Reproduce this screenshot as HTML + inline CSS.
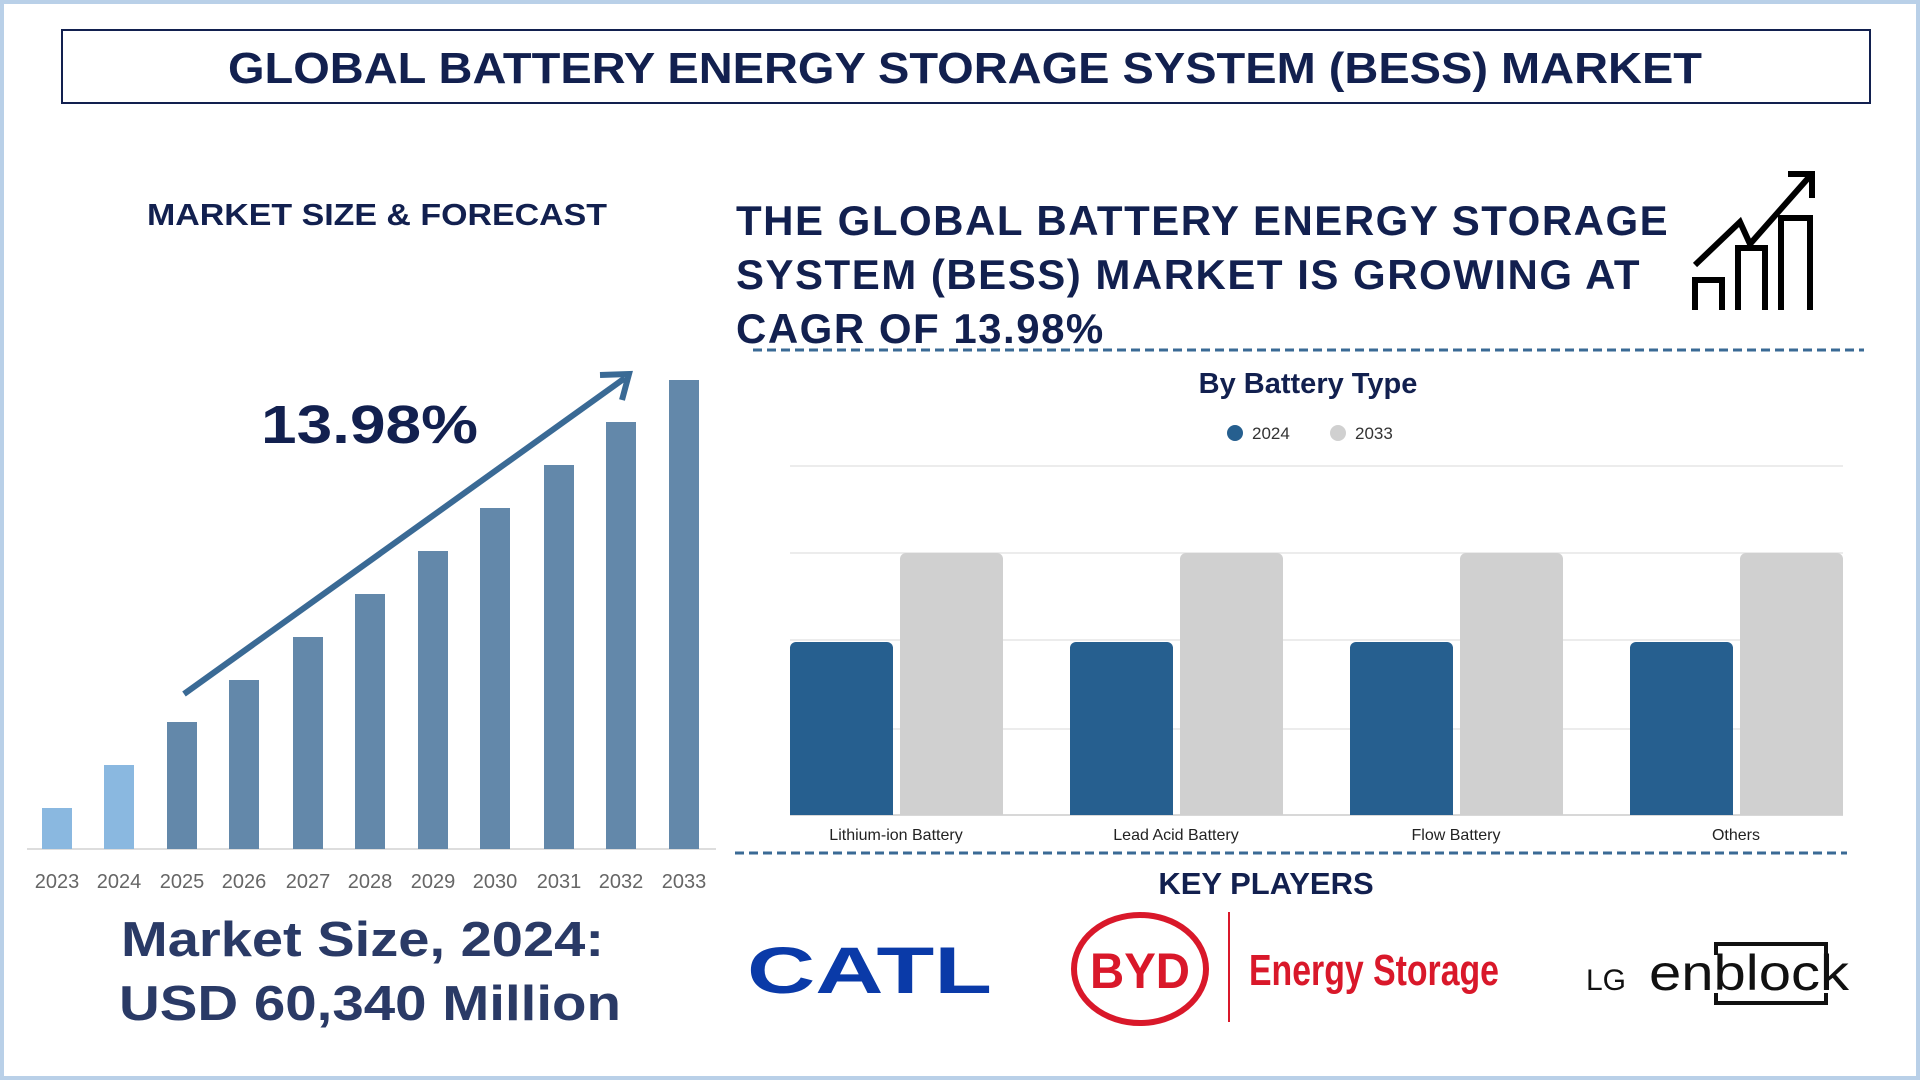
<!DOCTYPE html>
<html><head><meta charset="utf-8"><style>
body{margin:0;width:1920px;height:1080px;overflow:hidden;background:#fff;font-family:"Liberation Sans",sans-serif}
.frame{position:absolute;left:0;top:0;width:1912px;height:1072px;border:4px solid #b9d0e8}
.t{position:absolute;white-space:nowrap;font-weight:bold;color:#12204f}
</style></head><body>
<div class="frame"></div>
<div style="position:absolute;left:61px;top:29px;width:1806px;height:71px;border:2px solid #12204f"></div>
<div class="t" style="left:736px;top:194px;font-size:42px;line-height:54px;letter-spacing:1.5px">THE GLOBAL BATTERY ENERGY STORAGE<br>SYSTEM (BESS) MARKET IS GROWING AT<br>CAGR OF 13.98%</div>
<svg width="1920" height="1080" style="position:absolute;left:0;top:0">
<text x="228" y="83" font-size="44" font-weight="bold" fill="#12204f" textLength="1474" lengthAdjust="spacingAndGlyphs">GLOBAL BATTERY ENERGY STORAGE SYSTEM (BESS) MARKET</text>
<text x="147" y="225" font-size="31" font-weight="bold" fill="#12204f" textLength="460" lengthAdjust="spacingAndGlyphs">MARKET SIZE &amp; FORECAST</text>
<g fill="none" stroke="#000" stroke-width="6">
<polyline points="1695,265 1740,222 1750,244 1810,176"/>
<polyline points="1788,174 1812,174 1812,198"/>
<polyline points="1695,310 1695,280 1722,280 1722,310"/>
<polyline points="1738,310 1738,248 1765,248 1765,310"/>
<polyline points="1781,310 1781,218 1810,218 1810,310"/>
</g>
<line x1="753" y1="350" x2="1864" y2="350" stroke="#3a6a95" stroke-width="3" stroke-dasharray="9,5"/>
<line x1="735" y1="853" x2="1847" y2="853" stroke="#3a6a95" stroke-width="3" stroke-dasharray="9,5"/>
<line x1="27" y1="849" x2="716" y2="849" stroke="#ddd" stroke-width="2"/>
<g fill="#6388aa">
<rect x="42" y="808" width="30" height="41" fill="#8ab8e0"/>
<rect x="104" y="765" width="30" height="84" fill="#8ab8e0"/>
<rect x="167" y="722" width="30" height="127"/>
<rect x="229" y="680" width="30" height="169"/>
<rect x="293" y="637" width="30" height="212"/>
<rect x="355" y="594" width="30" height="255"/>
<rect x="418" y="551" width="30" height="298"/>
<rect x="480" y="508" width="30" height="341"/>
<rect x="544" y="465" width="30" height="384"/>
<rect x="606" y="422" width="30" height="427"/>
<rect x="669" y="380" width="30" height="469"/>
</g>
<line x1="184" y1="694" x2="625" y2="378" stroke="#3a6a95" stroke-width="6"/>
<polyline points="600,375 629,374 622,400" fill="none" stroke="#3a6a95" stroke-width="6"/>
<g font-size="20" fill="#666" text-anchor="middle">
<text x="57" y="888">2023</text><text x="119" y="888">2024</text><text x="182" y="888">2025</text><text x="244" y="888">2026</text><text x="308" y="888">2027</text><text x="370" y="888">2028</text><text x="433" y="888">2029</text><text x="495" y="888">2030</text><text x="559" y="888">2031</text><text x="621" y="888">2032</text><text x="684" y="888">2033</text>
</g>
<g stroke="#e6e6e6" stroke-width="1.5">
<line x1="790" y1="466" x2="1843" y2="466"/><line x1="790" y1="553" x2="1843" y2="553"/><line x1="790" y1="640" x2="1843" y2="640"/><line x1="790" y1="729" x2="1843" y2="729"/><line x1="790" y1="815" x2="1843" y2="815" stroke="#ccc"/>
</g>
<g>
<path d="M790,815V648a6,6 0 0 1 6,-6H887a6,6 0 0 1 6,6V815Z" fill="#265f8f"/>
<path d="M900,815V559a6,6 0 0 1 6,-6H997a6,6 0 0 1 6,6V815Z" fill="#d0d0d0"/>
<path d="M1070,815V648a6,6 0 0 1 6,-6H1167a6,6 0 0 1 6,6V815Z" fill="#265f8f"/>
<path d="M1180,815V559a6,6 0 0 1 6,-6H1277a6,6 0 0 1 6,6V815Z" fill="#d0d0d0"/>
<path d="M1350,815V648a6,6 0 0 1 6,-6H1447a6,6 0 0 1 6,6V815Z" fill="#265f8f"/>
<path d="M1460,815V559a6,6 0 0 1 6,-6H1557a6,6 0 0 1 6,6V815Z" fill="#d0d0d0"/>
<path d="M1630,815V648a6,6 0 0 1 6,-6H1727a6,6 0 0 1 6,6V815Z" fill="#265f8f"/>
<path d="M1740,815V559a6,6 0 0 1 6,-6H1837a6,6 0 0 1 6,6V815Z" fill="#d0d0d0"/>
</g>
<g font-size="16" fill="#222" text-anchor="middle">
<text x="896" y="840">Lithium-ion Battery</text><text x="1176" y="840">Lead Acid Battery</text><text x="1456" y="840">Flow Battery</text><text x="1736" y="840">Others</text>
</g>
<text x="1308" y="393" font-size="29" font-weight="bold" fill="#12204f" text-anchor="middle">By Battery Type</text>
<circle cx="1235" cy="433" r="8" fill="#265f8f"/><text x="1252" y="439" font-size="17" fill="#333">2024</text>
<circle cx="1338" cy="433" r="8" fill="#d0d0d0"/><text x="1355" y="439" font-size="17" fill="#333">2033</text>
<text x="1266" y="894" font-size="31" font-weight="bold" fill="#12204f" text-anchor="middle">KEY PLAYERS</text>
<text x="261" y="443" font-size="54" font-weight="bold" fill="#12204f" textLength="217" lengthAdjust="spacingAndGlyphs">13.98%</text>
<text x="121" y="956" font-size="49" font-weight="bold" fill="#2a3a66" textLength="483" lengthAdjust="spacingAndGlyphs">Market Size, 2024:</text>
<text x="119" y="1020" font-size="49" font-weight="bold" fill="#2a3a66" textLength="502" lengthAdjust="spacingAndGlyphs">USD 60,340 Million</text>
<text x="747" y="993" font-size="66" font-weight="bold" fill="#0a3aa8" textLength="245" lengthAdjust="spacingAndGlyphs">CATL</text>
<ellipse cx="1140" cy="969" rx="66" ry="54" fill="none" stroke="#d9182a" stroke-width="6"/>
<text x="1140" y="988" font-size="50" font-weight="bold" fill="#d9182a" text-anchor="middle" textLength="100" lengthAdjust="spacingAndGlyphs">BYD</text>
<line x1="1229" y1="912" x2="1229" y2="1022" stroke="#d9182a" stroke-width="2"/>
<text x="1249" y="985" font-size="44" font-weight="bold" fill="#d9182a" textLength="250" lengthAdjust="spacingAndGlyphs">Energy Storage</text>
<text x="1586" y="990" font-size="30" fill="#111">LG</text>
<text x="1649" y="990" font-size="50" fill="#111" textLength="200" lengthAdjust="spacingAndGlyphs">enblock</text>
<polyline points="1716,955 1716,944 1826,944 1826,955" fill="none" stroke="#111" stroke-width="4"/>
<polyline points="1716,993 1716,1003 1826,1003 1826,993" fill="none" stroke="#111" stroke-width="4"/>
</svg>
</body></html>
